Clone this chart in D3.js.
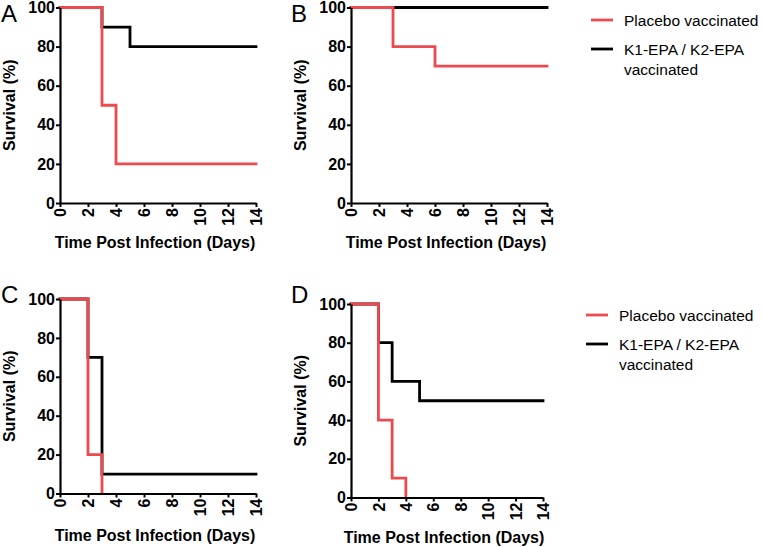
<!DOCTYPE html>
<html><head><meta charset="utf-8">
<script src="https://cdn.jsdelivr.net/npm/d3@7"></script>
<style>body{margin:0;background:#fff}svg{display:block}</style>
</head><body>
<script>
const panelLabels = ["A", "B", "C", "D"];
const seriesNames = ["Placebo vaccinated", "K1-EPA / K2-EPA vaccinated"];
const xTicks = [0, 2, 4, 6, 8, 10, 12, 14];
const yTicks = [0, 20, 40, 60, 80, 100];

const placeboA_t = [0, 3, 4, 14], placeboA_s = [100, 50, 20, 20];
const vaccA_t = [0, 3, 5, 14], vaccA_s = [100, 90, 80, 80];
const placeboB_t = [0, 3, 6, 14], placeboB_s = [100, 80, 70, 70];
const vaccB_t = [0, 14], vaccB_s = [100, 100];
const placeboC_t = [0, 2, 3, 3], placeboC_s = [100, 20, 0, 0];
const vaccC_t = [0, 2, 3, 14], vaccC_s = [100, 70, 10, 10];
const placeboD_t = [0, 2, 3, 4, 4], placeboD_s = [100, 40, 10, 0, 0];
const vaccD_t = [0, 2, 3, 5, 14], vaccD_s = [100, 80, 60, 50, 50];

const RED = "#ec4a4f", BLACK = "#000";
const W = 762, H = 547;
const svg = d3.select("body").append("svg").attr("width", W).attr("height", H);
const FONT = "'Liberation Sans', Arial, sans-serif";

const layouts = [
  {x0: 60, x1: 256, y0: 203, y1: 7.5, lab: [1, 22], ttl: 248},
  {x0: 351, x1: 547, y0: 203, y1: 7.5, lab: [291, 22], ttl: 248},
  {x0: 60, x1: 256, y0: 493.5, y1: 299, lab: [1, 303], ttl: 541},
  {x0: 351, x1: 543, y0: 497.5, y1: 304, lab: [291, 303], ttl: 543}
];
const data = [
  [[placeboA_t, placeboA_s], [vaccA_t, vaccA_s]],
  [[placeboB_t, placeboB_s], [vaccB_t, vaccB_s]],
  [[placeboC_t, placeboC_s], [vaccC_t, vaccC_s]],
  [[placeboD_t, placeboD_s], [vaccD_t, vaccD_s]]
];

layouts.forEach((L, i) => {
  const x = d3.scaleLinear().domain([0, 14]).range([L.x0, L.x1]);
  const y = d3.scaleLinear().domain([0, 100]).range([L.y0, L.y1]);
  const g = svg.append("g");

  const line = d3.line().x(d => x(d[0])).y(d => y(d[1])).curve(d3.curveStepAfter);
  [[1, BLACK], [0, RED]].forEach(([k, col]) => {
    const [t, s] = data[i][k];
    g.append("path").datum(t.map((v, j) => [v, s[j]]))
      .attr("d", line).attr("fill", "none").attr("stroke", col)
      .attr("stroke-width", 2.8).attr("stroke-linejoin", "miter").attr("stroke-linecap", "square");
  });

  const ya = g.append("g").attr("transform", `translate(${L.x0},0)`)
    .call(d3.axisLeft(y).tickValues(yTicks).tickSize(4).tickPadding(1).tickSizeOuter(0));
  const xa = g.append("g").attr("transform", `translate(0,${L.y0})`)
    .call(d3.axisBottom(x).tickValues(xTicks).tickSize(4).tickSizeOuter(0));
  [ya, xa].forEach(a => {
    a.select(".domain").attr("stroke", "#000").attr("stroke-width", 2.2);
    a.selectAll(".tick line").attr("stroke", "#000").attr("stroke-width", 2);
    a.selectAll("text").attr("font-family", FONT).attr("font-weight", "bold")
      .attr("font-size", 16).attr("fill", "#000");
  });
  xa.selectAll(".tick text").attr("transform", "rotate(-90)")
    .attr("text-anchor", "end").attr("x", -5).attr("y", 0).attr("dy", "0.35em");

  g.append("text").attr("x", (L.x0 + L.x1) / 2 - 3).attr("y", L.ttl)
    .attr("text-anchor", "middle").attr("font-family", FONT).attr("font-weight", "bold")
    .attr("font-size", 16).text("Time Post Infection (Days)");
  g.append("text").attr("transform", `translate(${L.x0 - 45},${(L.y0 + L.y1) / 2}) rotate(-90)`)
    .attr("text-anchor", "middle").attr("font-family", FONT).attr("font-weight", "bold")
    .attr("font-size", 16).text("Survival (%)");
  g.append("text").attr("x", L.lab[0]).attr("y", L.lab[1])
    .attr("font-family", FONT).attr("font-size", 24).text(panelLabels[i]);
});

[{x: 591, y: 20}, {x: 586, y: 315}].forEach(P => {
  const lg = svg.append("g");
  lg.append("line").attr("x1", P.x).attr("x2", P.x + 22).attr("y1", P.y).attr("y2", P.y)
    .attr("stroke", RED).attr("stroke-width", 2.8);
  lg.append("text").attr("x", P.x + 33).attr("y", P.y + 6)
    .attr("font-family", FONT).attr("font-size", 15.5).text(seriesNames[0]);
  lg.append("line").attr("x1", P.x).attr("x2", P.x + 22).attr("y1", P.y + 29).attr("y2", P.y + 29)
    .attr("stroke", BLACK).attr("stroke-width", 2.8);
  const t = lg.append("text").attr("font-family", FONT).attr("font-size", 15.5);
  t.append("tspan").attr("x", P.x + 33).attr("y", P.y + 35).text("K1-EPA / K2-EPA");
  t.append("tspan").attr("x", P.x + 33).attr("y", P.y + 54.5).text("vaccinated");
});
</script>
</body></html>
